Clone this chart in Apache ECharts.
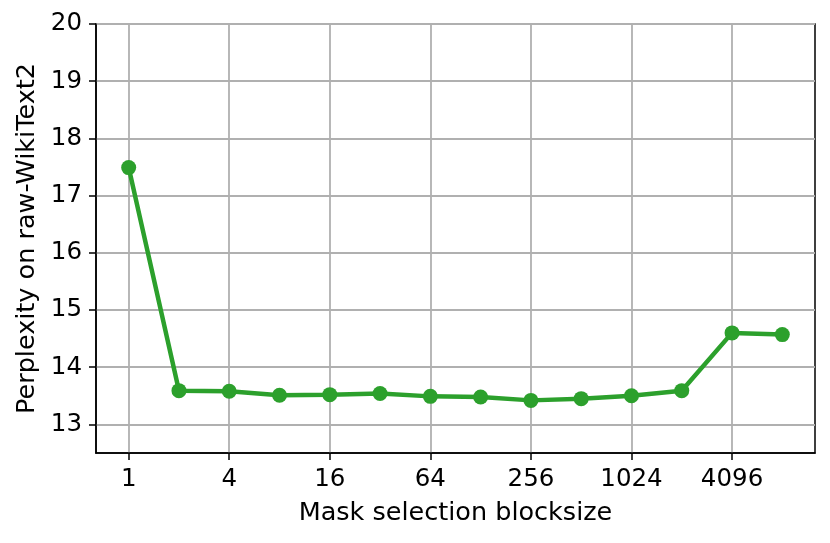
<!DOCTYPE html>
<html>
<head>
<meta charset="utf-8">
<script src="https://cdn.jsdelivr.net/npm/echarts@6/dist/echarts.min.js"></script>
<style>
html,body{margin:0;padding:0;background:#fff;}
#chart{width:830px;height:543px;}
</style>
</head>
<body>
<div id="chart"></div>
<script>
// Data
const blocksizes = [1, 2, 4, 8, 16, 32, 64, 128, 256, 512, 1024, 2048, 4096, 8192];
const perplexity = [17.49, 13.59, 13.58, 13.51, 13.52, 13.54, 13.49, 13.48, 13.42, 13.45, 13.50, 13.59, 14.60, 14.57];
const xTickValues = [1, 4, 16, 64, 256, 1024, 4096];
const yTickValues = [13, 14, 15, 16, 17, 18, 19, 20];
const xAxisTitle = 'Mask selection blocksize';
const yAxisTitle = 'Perplexity on raw-WikiText2';

const font = 'DejaVu Sans';
const chart = echarts.init(document.getElementById('chart'), null, {renderer: 'canvas'});
const seriesData = blocksizes.map((b, i) => [b, perplexity[i]]);

chart.setOption({
  animation: false,
  backgroundColor: '#fff',
  grid: {
    left: 96, right: 15, top: 24, bottom: 90,
    show: true, borderColor: '#000', borderWidth: 1.5, backgroundColor: 'transparent'
  },
  xAxis: {
    type: 'log',
    logBase: 2,
    min: Math.pow(2, -0.65),
    max: Math.pow(2, 13.65),
    name: xAxisTitle,
    nameLocation: 'middle',
    nameGap: 47,
    nameTextStyle: {fontFamily: font, fontSize: 25.5, color: '#000'},
    axisLine: {show: true, lineStyle: {color: '#000', width: 1.5}},
    axisTick: {show: true, length: 7, lineStyle: {color: '#000', width: 1.5}, customValues: xTickValues},
    axisLabel: {
      fontFamily: font, fontSize: 24.5, color: '#000', margin: 14,
      customValues: xTickValues,
      formatter: v => String(Math.round(v))
    },
    splitLine: {show: true, lineStyle: {color: '#b0b0b0', width: 1.8}},
    minorTick: {show: false},
    minorSplitLine: {show: false}
  },
  yAxis: {
    type: 'value',
    min: 12.5,
    max: 20,
    name: yAxisTitle,
    nameLocation: 'middle',
    nameGap: 56,
    nameRotate: 90,
    nameTextStyle: {fontFamily: font, fontSize: 25.5, color: '#000'},
    axisLine: {show: true, lineStyle: {color: '#000', width: 1.5}},
    axisTick: {show: true, length: 7, lineStyle: {color: '#000', width: 1.5}, customValues: yTickValues},
    axisLabel: {
      fontFamily: font, fontSize: 24.5, color: '#000', margin: 14,
      customValues: yTickValues,
      formatter: v => String(Math.round(v))
    },
    splitLine: {show: true, lineStyle: {color: '#b0b0b0', width: 1.8}}
  },
  series: [{
    type: 'line',
    data: seriesData,
    lineStyle: {color: '#2ca02c', width: 4.5},
    itemStyle: {color: '#2ca02c'},
    symbol: 'circle',
    symbolSize: 15,
    showSymbol: true,
    z: 3
  }]
});
</script>
</body>
</html>
